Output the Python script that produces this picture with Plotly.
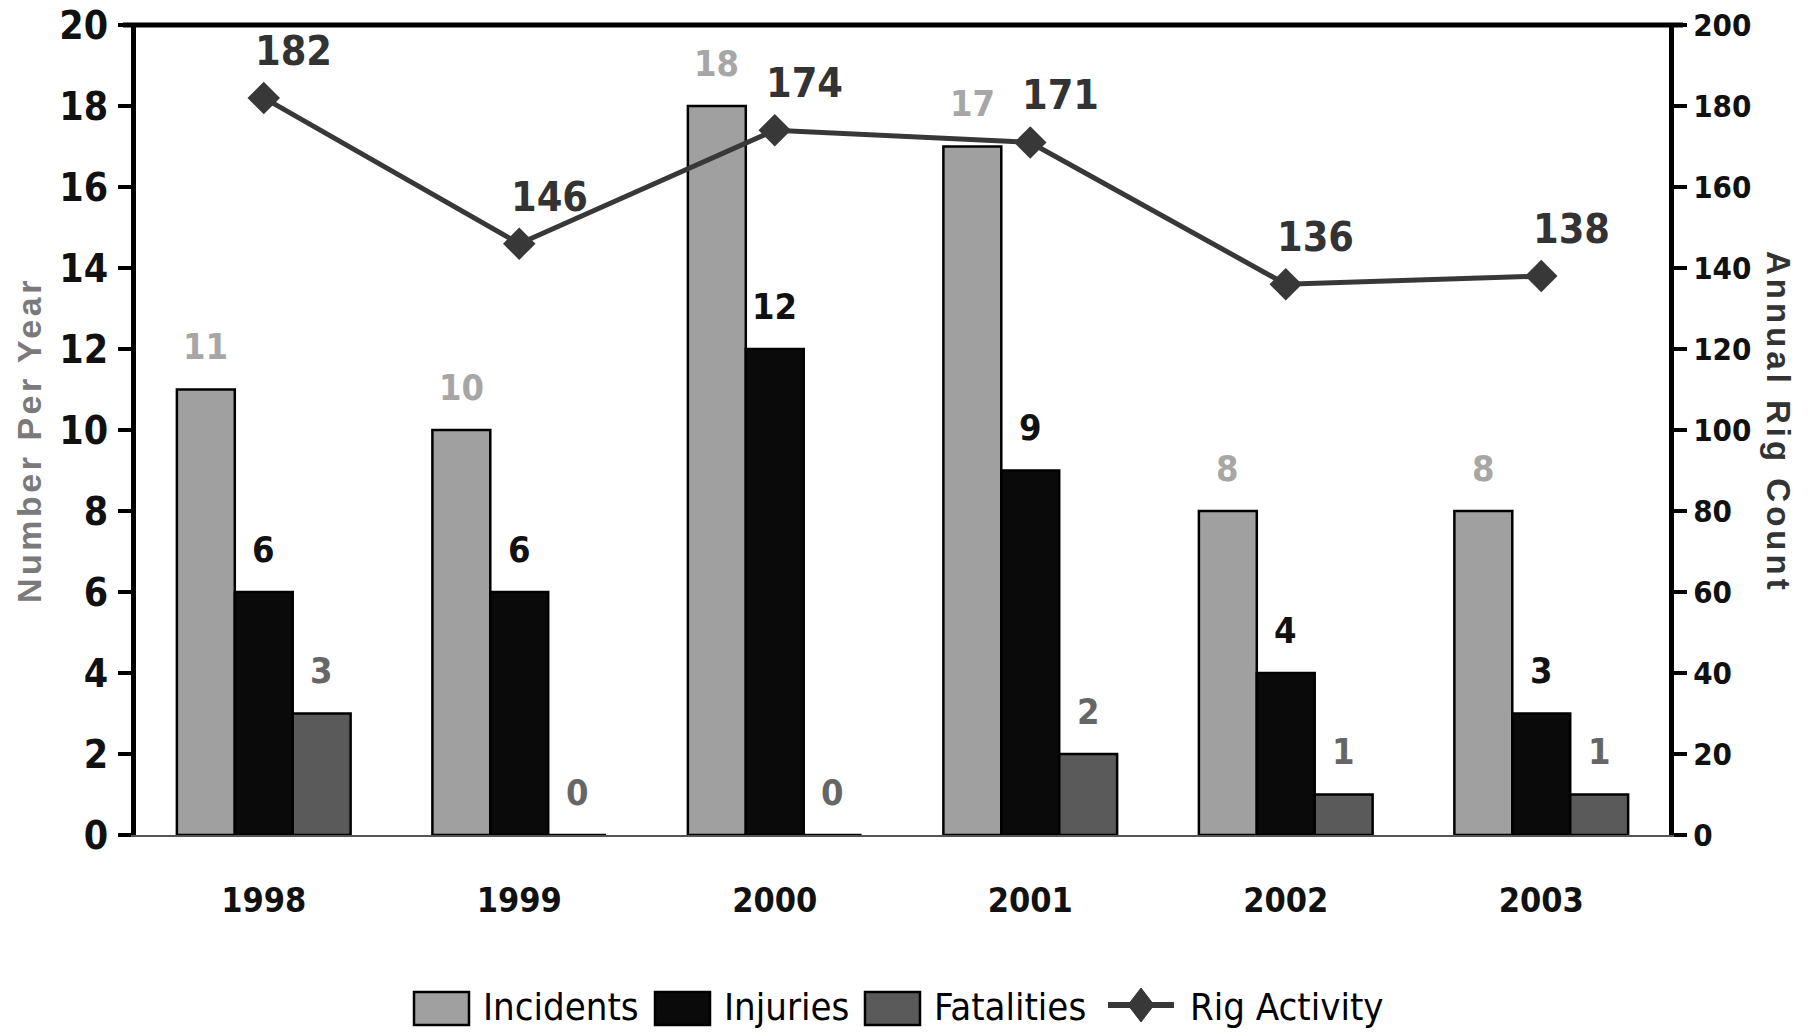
import plotly.graph_objects as go

# ---------------- data ----------------
years = ["1998", "1999", "2000", "2001", "2002", "2003"]
incidents = [11, 10, 18, 17, 8, 8]
injuries = [6, 6, 12, 9, 4, 3]
fatalities = [3, 0, 0, 2, 1, 1]
rig_activity = [182, 146, 174, 171, 136, 138]
series_names = ["Incidents", "Injuries", "Fatalities", "Rig Activity"]
left_ticks = [0, 2, 4, 6, 8, 10, 12, 14, 16, 18, 20]
right_ticks = [0, 20, 40, 60, 80, 100, 120, 140, 160, 180, 200]
left_title = "Number Per Year"
right_title = "Annual Rig Count"

# ---------------- styling / layout constants ----------------
W, H = 1808, 1034
L, R, T, B = 136, 139, 25, 199
PW = W - L - R
PH = H - T - B
NARROW = ("Noto Sans ExtraCondensed, Noto Sans Condensed, Liberation Sans Narrow, "
          "Arial Narrow, DejaVu Sans Condensed, sans-serif")
WIDE = "Liberation Sans, Arial, sans-serif"
bar_colors = ["#a0a0a0", "#0a0a0a", "#5a5a5a"]
label_colors = ["#a6a6a6", "#111111", "#666666"]
line_color = "#383838"
BARGAP = 0.32
bar_px = (PW / len(years)) * (1 - BARGAP) / 3


def xp(px):
    return (px - L) / PW


def yp(py):
    return (H - B - py) / PH


fig = go.Figure()

for name, vals, col in zip(series_names[:3], [incidents, injuries, fatalities], bar_colors):
    fig.add_trace(go.Bar(
        x=years, y=vals, name=name,
        marker=dict(color=col, line=dict(color="#000000", width=2.5)),
        showlegend=False, hoverinfo="x+y+name",
    ))

fig.add_trace(go.Scatter(
    x=years, y=rig_activity, name=series_names[3], yaxis="y2",
    mode="lines+markers",
    line=dict(color=line_color, width=5),
    marker=dict(symbol="diamond", size=25, color=line_color),
    showlegend=False,
))

annotations = []
# bar value labels (x given as category index on the category axis)
for k, (vals, col) in enumerate(zip([incidents, injuries, fatalities], label_colors)):
    for i, v in enumerate(vals):
        annotations.append(dict(
            x=i, y=v, xref="x", yref="y", text=str(v), showarrow=False,
            xshift=(k - 1) * bar_px, yshift=43, xanchor="center", yanchor="middle",
            font=dict(family=NARROW, size=36, color=col, weight="bold"),
        ))
# rig labels
for i, v in enumerate(rig_activity):
    annotations.append(dict(
        x=i, y=v, xref="x", yref="y2", text=str(v), showarrow=False,
        xshift=30, yshift=47, xanchor="center", yanchor="middle",
        font=dict(family=NARROW, size=41, color="#333333", weight="bold"),
    ))

# axis titles
annotations.append(dict(
    x=xp(29), y=yp(440), xref="paper", yref="paper", showarrow=False,
    text='<span style="letter-spacing:3.5px">' + left_title + "</span>",
    textangle=-90, xanchor="center", yanchor="middle",
    font=dict(family=WIDE, size=34, color="#7a7a7a", weight="bold"),
))
annotations.append(dict(
    x=xp(1779), y=yp(422), xref="paper", yref="paper", showarrow=False,
    text='<span style="letter-spacing:4px">' + right_title + "</span>",
    textangle=90, xanchor="center", yanchor="middle",
    font=dict(family=WIDE, size=33, color="#333333", weight="bold"),
))

# custom legend (laid out left to right)
shapes = []
LEG_FONT = 38
text_w = [156, 125, 156, 194]   # approximate rendered widths of the legend names
box_w, gap_in, gap_out = 55, 12, 18
ly0, ly1, lyc = 992, 1025, 1007
xcur = 414
for idx, name in enumerate(series_names):
    if idx < 3:
        shapes.append(dict(type="rect", xref="paper", yref="paper",
                           x0=xp(xcur), x1=xp(xcur + box_w), y0=yp(ly1), y1=yp(ly0),
                           fillcolor=bar_colors[idx], line=dict(color="#000000", width=2.5)))
        sym_w = box_w
    else:
        sym_w = 70
        shapes.append(dict(type="line", xref="paper", yref="paper",
                           x0=xp(xcur + 2), x1=xp(xcur + sym_w - 2), y0=yp(lyc - 2), y1=yp(lyc - 2),
                           line=dict(color=line_color, width=6)))
        cx, cy = xcur + sym_w / 2, lyc - 2
        shapes.append(dict(type="path", xref="paper", yref="paper",
                           path=(f"M {xp(cx - 13)} {yp(cy)} L {xp(cx)} {yp(cy - 17)} "
                                 f"L {xp(cx + 13)} {yp(cy)} L {xp(cx)} {yp(cy + 17)} Z"),
                           fillcolor=line_color, line=dict(color=line_color, width=1)))
    annotations.append(dict(x=xp(xcur + sym_w + gap_in), y=yp(lyc), xref="paper", yref="paper",
                            text=name, showarrow=False, xanchor="left", yanchor="middle",
                            font=dict(family=NARROW, size=LEG_FONT, color="#000000")))
    xcur += sym_w + gap_in + text_w[idx] + gap_out

# top border line
shapes.append(dict(type="line", xref="paper", yref="paper",
                   x0=xp(123), x1=xp(1683), y0=1, y1=1,
                   line=dict(color="#000000", width=5)))

tick_common = dict(showgrid=False, zeroline=False, ticklen=13, tickwidth=4,
                   tickcolor="#000000", automargin=False, ticklabeloverflow="allow")

fig.update_layout(
    width=W, height=H,
    margin=dict(l=L, r=R, t=T, b=B, pad=0, autoexpand=False),
    paper_bgcolor="#ffffff", plot_bgcolor="#ffffff",
    barmode="group", bargap=BARGAP, bargroupgap=0,
    showlegend=False,
    xaxis=dict(type="category", range=[-0.5, 5.5], showgrid=False, zeroline=False,
               showline=True, linecolor="#555555", linewidth=2, ticks="",
               ticklabelstandoff=34, automargin=False, ticklabeloverflow="allow",
               tickfont=dict(family=NARROW, size=34, color="#111111", weight="bold")),
    yaxis=dict(range=[0, 20], tickvals=left_ticks, ticks="outside",
               showline=True, linecolor="#000000", linewidth=5,
               ticklabelstandoff=2,
               tickfont=dict(family=NARROW, size=39, color="#111111", weight="bold"),
               **tick_common),
    yaxis3=dict(range=[0, 20], tickvals=left_ticks, ticks="inside", overlaying="y",
                side="left", anchor="x", showticklabels=False, showline=False,
                **tick_common),
    yaxis2=dict(range=[0, 200], tickvals=right_ticks, ticks="outside", overlaying="y",
                side="right", anchor="x",
                showline=True, linecolor="#000000", linewidth=5,
                ticklabelstandoff=0,
                tickfont=dict(family=NARROW, size=31, color="#111111", weight="bold"),
                **tick_common),
    yaxis4=dict(range=[0, 200], tickvals=right_ticks, ticks="inside", overlaying="y",
                side="right", anchor="x", showticklabels=False, showline=False,
                **tick_common),
    annotations=annotations,
    shapes=shapes,
)

fig.write_html("out.html", config={"displayModeBar": False},
               post_script="document.body.style.margin='0px';")
